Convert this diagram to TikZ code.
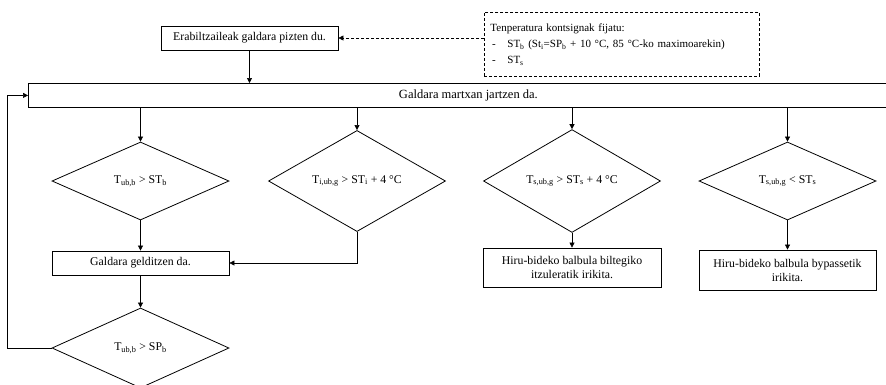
\documentclass[tikz,border=0pt]{standalone}
\usepackage{fontspec}
\setmainfont{Liberation Serif}
\usetikzlibrary{shapes.geometric,arrows.meta}
\begin{document}
\begin{tikzpicture}[x=1pt,y=-1pt,
  box/.style={draw, line width=0.8pt, inner sep=2pt, font=\fontsize{11.8}{14}\selectfont, align=center},
  dec/.style={draw, diamond, line width=0.8pt, minimum width=177pt, minimum height=78pt, inner sep=0pt, font=\fontsize{11.8}{14}\selectfont},
  arr/.style={-{Triangle[length=5pt,width=5pt]}, line width=0.6pt},
  dsh/.style={dash pattern=on 3pt off 2pt}]
\clip (0,0) rectangle (886,384);
\fill[white] (0,0) rectangle (886,384);
\node[box, minimum width=177pt, minimum height=24pt] (start) at (249.5,38) {Erabiltzaileak galdara pizten du.};
\node[box, dsh, anchor=north west, text width=263pt, inner xsep=6pt, minimum height=64pt, align=left, font=\fontsize{11}{16}\selectfont] (cfg) at (484,12)
  {Tenperatura kontsignak fijatu:\\
   \makebox[17pt][l]{\,-}ST\textsubscript{b} (St\textsubscript{i}=SP\textsubscript{b} + 10 °C, 85 °C-ko maximoarekin)\\
   \makebox[17pt][l]{\,-}ST\textsubscript{s}};
\node[box, anchor=north west, minimum width=880pt, minimum height=24pt, font=\fontsize{12.5}{14}\selectfont] (bar) at (28,83) {Galdara martxan jartzen da.};
\node[dec] (d1) at (140.5,181) {T\textsubscript{ub,b} > ST\textsubscript{b}};
\node[dec] (d2) at (357,181) {T\textsubscript{i,ub,g} > ST\textsubscript{i} + 4 °C};
\node[dec] (d3) at (572,181) {T\textsubscript{s,ub,g} > ST\textsubscript{s} + 4 °C};
\node[dec] (d4) at (787.5,181) {T\textsubscript{s,ub,g} < ST\textsubscript{s}};
\node[box, minimum width=177pt, minimum height=24pt] (stop) at (140.5,263) {Galdara gelditzen da.};
\node[dec, minimum height=80pt] (d5) at (140.5,348) {T\textsubscript{ub,b} > SP\textsubscript{b}};
\node[box, minimum width=178pt, minimum height=39pt, font=\fontsize{11.8}{14}\selectfont] (b3) at (572,267.5) {Hiru-bideko balbula biltegiko\\itzuleratik irikita.};
\node[box, minimum width=177pt, minimum height=40pt, font=\fontsize{11.8}{14}\selectfont] (b4) at (787.5,270) {Hiru-bideko balbula bypassetik\\irikita.};
\coordinate (lp) at (7,348);
\draw[arr] (start.south) -- (start.south |- bar.north);
\draw[arr, dsh] (cfg.west |- start.east) -- (start.east);
\draw[arr] (d1.north |- bar.south) -- (d1.north);
\draw[arr] (d2.north |- bar.south) -- (d2.north);
\draw[arr] (d3.north |- bar.south) -- (d3.north);
\draw[arr] (d4.north |- bar.south) -- (d4.north);
\draw[arr] (d1.south) -- (stop.north);
\draw[arr] (d2.south) |- (stop.east);
\draw[arr] (stop.south) -- (d5.north);
\draw[arr] (d5.west) -- (lp) |- (bar.west);
\draw[arr] (d3.south) -- (b3.north);
\draw[arr] (d4.south) -- (b4.north);
\end{tikzpicture}
\end{document}
